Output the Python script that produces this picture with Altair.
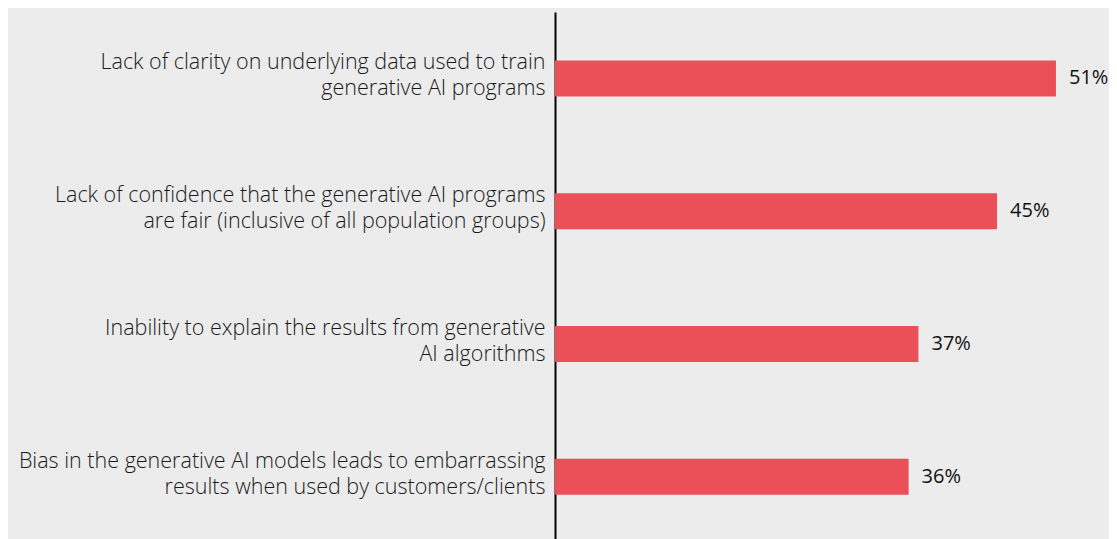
import altair as alt
import pandas as pd

categories = [
    "Lack of clarity on underlying data used to train\ngenerative AI programs",
    "Lack of confidence that the generative AI programs\nare fair (inclusive of all population groups)",
    "Inability to explain the results from generative\nAI algorithms",
    "Bias in the generative AI models leads to embarrassing\nresults when used by customers/clients",
]
values = [51, 45, 37, 36]
value_labels = ["51%", "45%", "37%", "36%"]

df = pd.DataFrame({"cat": categories, "val": values, "lab": value_labels})

FONT = "Open Sans"

y = alt.Y(
    "cat:N",
    sort=categories,
    scale=alt.Scale(paddingInner=0.73, paddingOuter=0.365),
    axis=alt.Axis(
        title=None,
        ticks=False,
        domainColor="#000000",
        domainWidth=2,
        labelExpr="split(datum.label, '\\n')",
        labelFont=FONT,
        labelFontSize=21.5,
        labelFontWeight=300,
        labelColor="#1a1a1a",
        labelPadding=10,
        labelLineHeight=26,
        labelOffset=-15,
        labelLimit=700,
    ),
)
x = alt.X("val:Q", scale=alt.Scale(domain=[0, 56.4]), axis=None)

bars = alt.Chart(df).mark_bar(color="#EB5059", size=36).encode(x=x, y=y)
texts = alt.Chart(df).mark_text(
    align="left", baseline="middle", dx=13, font=FONT, fontSize=20,
    fontWeight=400, color="#111111"
).encode(x=x, y=alt.Y("cat:N", sort=categories), text="lab:N")

chart = (
    alt.layer(bars, texts)
    .properties(
        width=554,
        height=531,
        autosize=alt.AutoSizeParams(type="none"),
        padding={"left": 547, "top": 4, "right": 0, "bottom": 0},
        background="#ececec",
    )
    .configure_view(stroke=None)
)

chart.save("out.html", embed_options={"renderer": "svg", "actions": False})
